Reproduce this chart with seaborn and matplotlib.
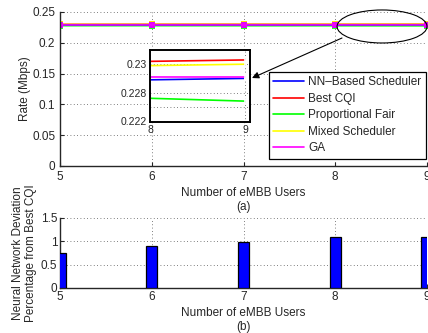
import numpy as np
import pandas as pd
import matplotlib
matplotlib.use("Agg")
import matplotlib.pyplot as plt
from matplotlib.patches import Ellipse
import seaborn as sns

# Number of eMBB users on the x axis
users = [5, 6, 7, 8, 9]

# Rate (Mbps) per scheduler
nn_rate = [0.2289, 0.2289, 0.2289, 0.2289, 0.2290]
cqi_rate = [0.2301, 0.2302, 0.2302, 0.2302, 0.2303]
pf_rate = [0.2277, 0.2277, 0.2276, 0.2276, 0.2274]
mixed_rate = [0.2298, 0.2298, 0.2298, 0.2299, 0.2300]
ga_rate = [0.2290, 0.2290, 0.2290, 0.2291, 0.2291]

# NN deviation from Best CQI (%)
deviation = [0.75, 0.90, 0.98, 1.10, 1.10]

names = ["NN\u2013Based Scheduler", "Best CQI", "Proportional Fair",
         "Mixed Scheduler", "GA"]
colors = ["#0000ff", "#ff0000", "#00ff00", "#ffff00", "#ff00ff"]
series = [nn_rate, cqi_rate, pf_rate, mixed_rate, ga_rate]

rows = []
for n, s in zip(names, series):
    for u, v in zip(users, s):
        rows.append({"users": u, "rate": v, "scheduler": n})
df = pd.DataFrame(rows)
dev_df = pd.DataFrame({"users": users, "deviation": deviation})

sns.set_style("ticks")
plt.rcParams["font.family"] = ["Liberation Sans", "DejaVu Sans"]
plt.rcParams["font.size"] = 8.5

W, H = 428, 333
fig = plt.figure(figsize=(W / 100, H / 100), dpi=100)

def frac(x0, y0, x1, y1):
    return [x0 / W, 1 - y1 / H, (x1 - x0) / W, (y1 - y0) / H]

grid_kw = dict(color="#555555", linestyle=(0, (1, 3)), linewidth=0.6)

# ---- (a) rates ----
ax = fig.add_axes(frac(60, 12, 427, 166))
palette = dict(zip(names, colors))
draw_order = ["Proportional Fair", "Best CQI", "Mixed Scheduler",
              "NN\u2013Based Scheduler", "GA"]
for n in draw_order:
    sub = df[df.scheduler == n]
    sns.lineplot(data=sub, x="users", y="rate", color=palette[n], ax=ax,
                 linewidth=1.2, marker="s", markersize=4, alpha=0.85,
                 markeredgewidth=0, legend=False)
ax.set_xlim(5, 9)
ax.set_ylim(0, 0.25)
ax.set_xticks(users)
ax.set_yticks([0, 0.05, 0.1, 0.15, 0.2, 0.25])
ax.set_yticklabels(["0", "0.05", "0.1", "0.15", "0.2", "0.25"])
ax.grid(True, **grid_kw)
ax.tick_params(direction="in", length=3, width=0.8, labelsize=8.5)
sns.despine(ax=ax, top=True, right=True)
for sp in ["left", "bottom"]:
    ax.spines[sp].set_linewidth(1.0)
ax.set_xlabel("Number of eMBB Users\n(a)", fontsize=8.5, labelpad=3,
              linespacing=1.2)
ax.set_ylabel("Rate (Mbps)", fontsize=8.5, labelpad=0.5)

handles = [plt.Line2D([], [], color=c, linewidth=1.2) for c in colors]
leg = ax.legend(handles, names, loc="lower right",
                bbox_to_anchor=(0.997, 0.045), fontsize=8.5, frameon=True,
                fancybox=False, edgecolor="black", framealpha=1,
                labelspacing=0.38, handlelength=2.6, handletextpad=0.35,
                borderpad=0.4, borderaxespad=0)
leg.get_frame().set_linewidth(0.9)

ell = Ellipse((8.51, 0.2265), 0.98, 0.0536, fill=False, edgecolor="black",
              linewidth=0.8, clip_on=False, zorder=5)
ax.add_patch(ell)

# zoomed inset of users 8-9
axi = fig.add_axes(frac(150, 50, 250, 122))
for n in draw_order:
    sub = df[df.scheduler == n]
    sns.lineplot(data=sub, x="users", y="rate", color=palette[n], ax=axi,
                 linewidth=1.2, marker="|", markersize=5, markeredgewidth=1.2,
                 legend=False)
axi.set_xlim(8, 9.053)
axi.set_ylim(0.22593, 0.231)
axi.set_xticks([8, 9])
axi.set_yticks([0.226, 0.227, 0.228, 0.23])
axi.set_yticklabels(["0.222", "", "0.228", "0.23"])
axi.grid(True, **grid_kw)
axi.tick_params(direction="in", length=0, labelsize=7.5, pad=2)
axi.set_xlabel("")
axi.set_ylabel("")
for sp in axi.spines.values():
    sp.set_linewidth(1.4)
    sp.set_color("black")
axi.set_facecolor("white")

fig.add_artist(plt.Annotation(
    "", xy=(252 / W, 1 - 78 / H), xytext=(342 / W, 1 - 38 / H),
    xycoords="figure fraction", textcoords="figure fraction",
    arrowprops=dict(arrowstyle="-|>", color="black", linewidth=0.8,
                    mutation_scale=10, shrinkA=0, shrinkB=0)))

# ---- (b) deviation ----
axb = fig.add_axes(frac(60, 218, 427, 288))
sns.barplot(data=dev_df, x="users", y="deviation", native_scale=True,
            width=0.12, color="#0000ff", edgecolor="black", linewidth=0.9,
            saturation=1, ax=axb, zorder=3)
axb.set_xlim(5, 9)
axb.set_ylim(0, 1.5)
axb.set_xticks(users)
axb.set_xticklabels([str(u) for u in users])
axb.set_yticks([0, 0.5, 1, 1.5])
axb.set_yticklabels(["0", "0.5", "1", "1.5"])
axb.grid(True, **grid_kw)
axb.set_axisbelow(True)
axb.tick_params(direction="in", length=3, width=0.8, labelsize=8.5, pad=2)
sns.despine(ax=axb, top=True, right=True)
for sp in ["left", "bottom"]:
    axb.spines[sp].set_linewidth(1.0)
axb.set_xlabel("Number of eMBB Users\n(b)", fontsize=8.5, labelpad=3,
               linespacing=1.2)
axb.set_ylabel("Neural Network Deviation\nPercentage from Best CQI",
               fontsize=8.5, labelpad=3, linespacing=1.1)

fig.savefig("out.png", dpi=100)
